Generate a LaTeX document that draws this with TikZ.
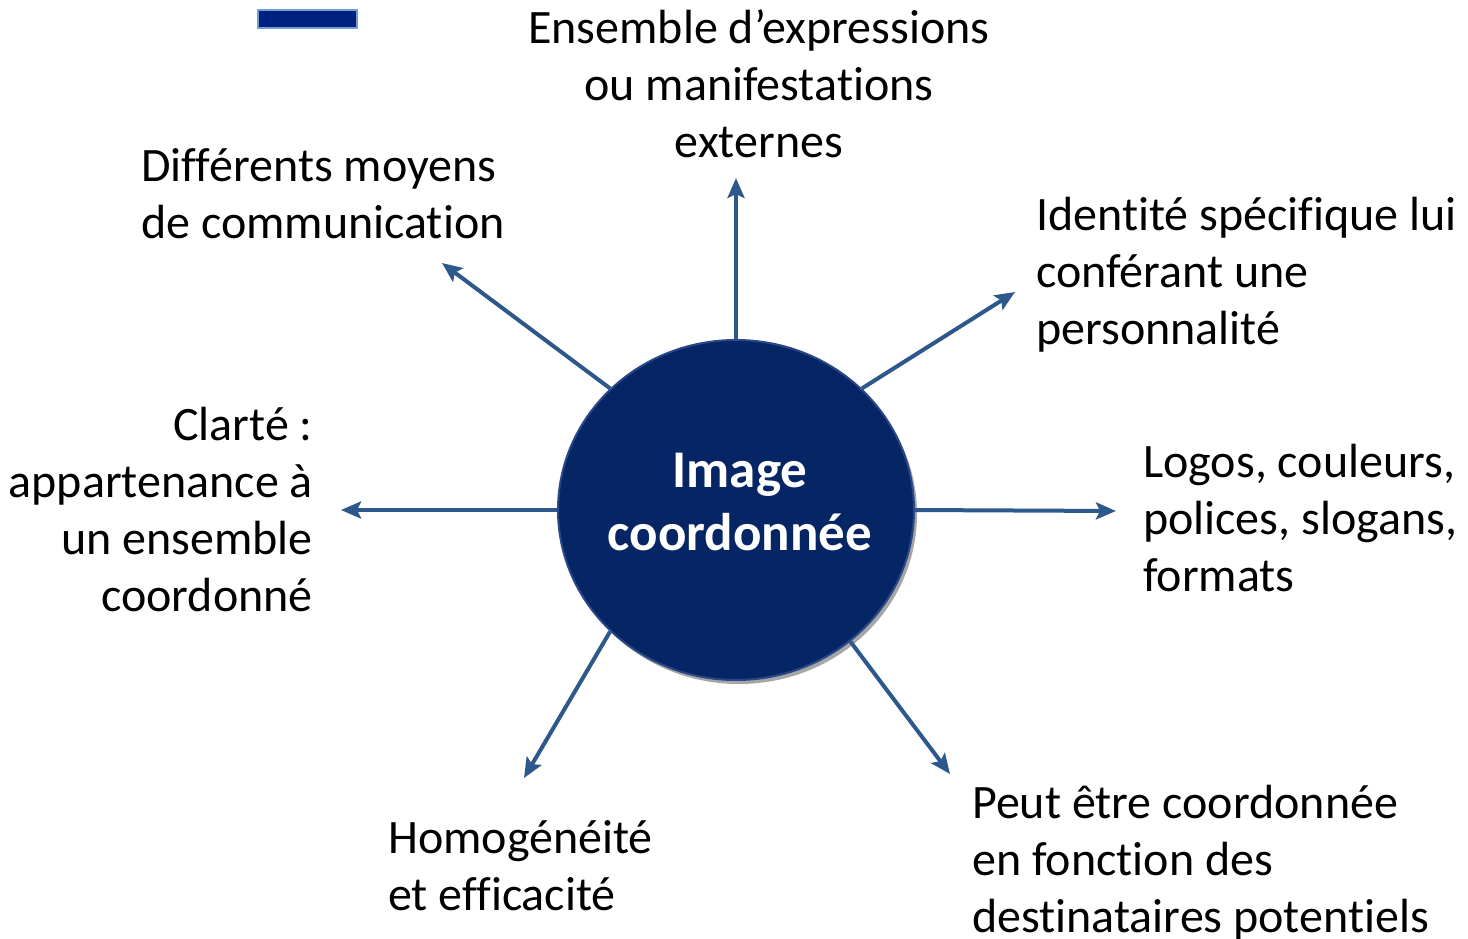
\documentclass[tikz,border=0pt]{standalone}
\usepackage{fontspec}
\setmainfont[Ligatures=NoCommon]{Carlito}
\usetikzlibrary{shapes.geometric,arrows.meta,shadows}
\definecolor{navyfill}{RGB}{6,37,100}
\definecolor{navyedge}{RGB}{40,72,135}
\definecolor{arrowc}{RGB}{44,88,140}
\definecolor{barfill}{RGB}{0,32,128}
\definecolor{baredge}{RGB}{110,160,215}
\tikzset{
  x=1pt,y=-1pt,
  lbl/.style={inner sep=0pt,font=\fontsize{48}{57}\selectfont},
  conn/.style={draw=arrowc,line width=4pt,-{Stealth[length=20pt,width=17pt,inset=4pt]}},
  hub/.style={ellipse,minimum width=356pt,minimum height=340pt,inner sep=0pt,
    fill=navyfill,draw=navyedge,line width=2pt,
    drop shadow={shadow xshift=3pt,shadow yshift=-4pt,opacity=0.35,fill=black}},
}
\begin{document}
\begin{tikzpicture}
\useasboundingbox (0,0) rectangle (1468,938);
% small bar top-left
\draw[fill=barfill,draw=baredge,line width=2pt] (258,10) rectangle (357,28);
% hub
\node[hub] (hub) at (736,510) {};
\node[anchor=base,inner sep=0pt,text=white,font=\fontsize{53}{63}\selectfont\bfseries] (hubtxt) at (740,487)
  {\begin{tabular}[t]{@{}c@{}}Image\\coordonnée\end{tabular}};
% labels
\node[lbl,anchor=base] (top) at (759,43)
  {\begin{tabular}[t]{@{}c@{}}Ensemble d’expressions\\ou manifestations\\externes\end{tabular}};
\node[lbl,anchor=base west] (ul) at (141,181)
  {\begin{tabular}[t]{@{}l@{}}Différents moyens\\de communication\end{tabular}};
\node[lbl,anchor=base west] (ur) at (1036,230)
  {\begin{tabular}[t]{@{}l@{}}Identité spécifique lui\\conférant une\\personnalité\end{tabular}};
\node[lbl,anchor=base east] (le) at (313,440)
  {\begin{tabular}[t]{@{}r@{}}Clarté :\\appartenance à\\un ensemble\\coordonné\end{tabular}};
\node[lbl,anchor=base west] (ri) at (1143,477)
  {\begin{tabular}[t]{@{}l@{}}Logos, couleurs,\\polices, slogans,\\formats\end{tabular}};
\node[lbl,anchor=base west] (ll) at (388,853)
  {\begin{tabular}[t]{@{}l@{}}Homogénéité\\et efficacité\end{tabular}};
\node[lbl,anchor=base west] (lr) at (972,818)
  {\begin{tabular}[t]{@{}l@{}}Peut être coordonnée\\en fonction des\\destinataires potentiels\end{tabular}};
% arrow end points
\coordinate (eT) at (736,178);
\coordinate (eUL) at (442,263);
\coordinate (eUR) at (1015,292);
\coordinate (eR) at (1116,511);
\coordinate (eL) at (341,510);
\coordinate (eLL) at (524,778);
\coordinate (eLR) at (950,774);
% connectors
\draw[conn] (hub.90) -- (eT);
\draw[conn] (hub.136) -- (eUL);
\draw[conn] (hub.44) -- (eUR);
\draw[conn] (hub.0) -- (eR);
\draw[conn] (hub.180) -- (eL);
\draw[conn] (hub.224) -- (eLL);
\draw[conn] (hub.311) -- (eLR);
\end{tikzpicture}
\end{document}
